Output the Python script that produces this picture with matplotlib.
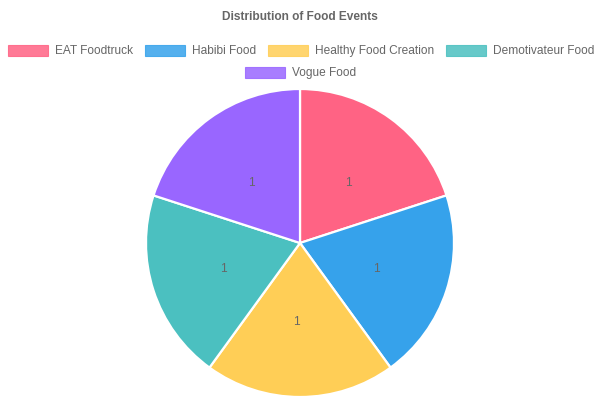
import matplotlib
matplotlib.use("Agg")
import matplotlib.pyplot as plt
from matplotlib.patches import Rectangle

categories = ["EAT Foodtruck", "Habibi Food", "Healthy Food Creation", "Demotivateur Food", "Vogue Food"]
values = [1, 1, 1, 1, 1]
colors = ["#FF6384", "#36A2EB", "#FFCE56", "#4BC0C0", "#9966FF"]
title = "Distribution of Food Events"

plt.rcParams['font.family'] = ['Liberation Sans', 'DejaVu Sans']
W, H = 600, 400
fig = plt.figure(figsize=(6, 4), dpi=100)

# pie axes: center (300,243) px, radius 154 px
cx, cy, r = 300, 243, 154
ax = fig.add_axes([(cx - r) / W, (H - cy - r) / H, 2 * r / W, 2 * r / H])
wedges, texts = ax.pie(values, colors=colors, startangle=90, counterclock=False,
                       labels=[str(v) for v in values], labeldistance=0.5,
                       wedgeprops=dict(edgecolor="white", linewidth=1.6),
                       textprops=dict(color="#666666", fontsize=8.6))
for t in texts:
    x, y = t.get_position()
    t.set_position((x, y - 2.5 / r))
ax.set_xlim(-1, 1); ax.set_ylim(-1, 1)
ax.set_aspect("equal")
ax.axis("off")

fig.text(0.5, 1 - 17 / H, title, ha="center", va="center", fontsize=8.6,
         fontweight="bold", color="#666666")

# legend, Chart.js style
fig.canvas.draw()
renderer = fig.canvas.get_renderer()
fs = 8.6
box_w, box_h, gap, pad = 40, 11, 7, 12
items = []
for c in categories:
    t = fig.text(0, 0, c, fontsize=fs)
    w = t.get_window_extent(renderer).width
    t.remove()
    items.append(w)
rows, cur, curw = [], [], 0
maxw = W - 10
for i, w in enumerate(items):
    iw = box_w + gap + w
    add = iw + (pad if cur else 0)
    if cur and curw + add > maxw:
        rows.append((cur, curw)); cur, curw = [], 0; add = iw
    cur.append(i); curw += add
rows.append((cur, curw))
row_y = [50, 72]
for ri, (idx, tw) in enumerate(rows):
    x = (W - tw) / 2 + 1
    y = row_y[ri] if ri < len(row_y) else 50 + 22 * ri
    for i in idx:
        fig.patches.append(Rectangle((x / W, 1 - (y + box_h / 2) / H), box_w / W, box_h / H,
                                     transform=fig.transFigure, facecolor=colors[i],
                                     edgecolor=colors[i], alpha=0.85, linewidth=0.8))
        fig.text((x + box_w + gap) / W, 1 - (y + 1) / H, categories[i], fontsize=fs,
                 color="#666666", ha="left", va="center")
        x += box_w + gap + items[i] + pad

fig.savefig("out.png", dpi=100, facecolor="white")
